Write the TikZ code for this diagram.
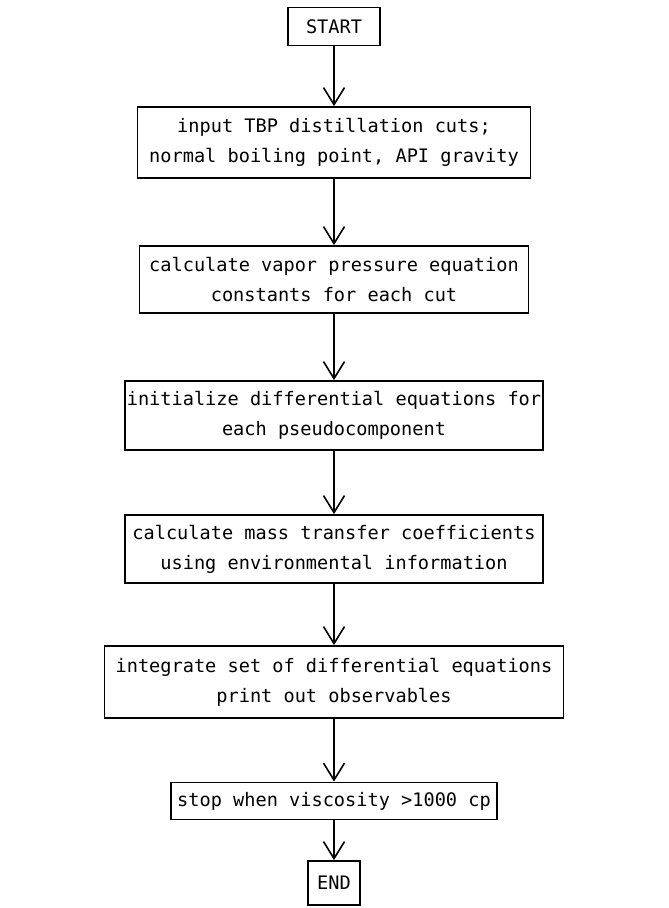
\documentclass[tikz,border=0pt]{standalone}
\usepackage{fontspec}
\setmonofont{DejaVu Sans Mono}
\usetikzlibrary{arrows.meta,positioning}

\begin{document}
\begin{tikzpicture}[x=1pt,y=-1pt,
  stepbox/.style={draw,line width=1.8pt,inner sep=0pt,align=center,
    font=\ttfamily\fontsize{18.6}{30}\selectfont},
  flow/.style={line width=1.6pt,-{Straight Barb[length=17pt,width=21pt,line width=1.6pt]}}]
  \useasboundingbox (0,0) rectangle (669,908);

  % Boxes, top to bottom
  \node[stepbox,minimum width=92pt,minimum height=38pt] (start) at (334,26.5) {START};
  \node[stepbox,minimum width=393pt,minimum height=71pt] (input) at (334,142.5)
    {input TBP distillation cuts;\\normal boiling point, API gravity};
  \node[stepbox,minimum width=389pt,minimum height=67pt] (vapor) at (334,279.5)
    {calculate vapor pressure equation\\constants for each cut};
  \node[stepbox,minimum width=418pt,minimum height=69pt] (init) at (334,415.5)
    {initialize differential equations for\\each pseudocomponent};
  \node[stepbox,minimum width=418pt,minimum height=68pt] (mass) at (334,549)
    {calculate mass transfer coefficients\\using environmental information};
  \node[stepbox,minimum width=459pt,minimum height=72pt] (integ) at (334,682)
    {integrate set of differential equations\\print out observables};
  \node[stepbox,minimum width=326pt,minimum height=37pt] (stop) at (334,801)
    {stop when viscosity >1000 cp};
  \node[stepbox,minimum width=52pt,minimum height=44pt] (end) at (334,883) {END};

  % Arrows
  \foreach \a/\b in {start/input,input/vapor,vapor/init,init/mass,mass/integ,integ/stop,stop/end}
    \draw[flow] (\a) -- (\b);
\end{tikzpicture}
\end{document}
